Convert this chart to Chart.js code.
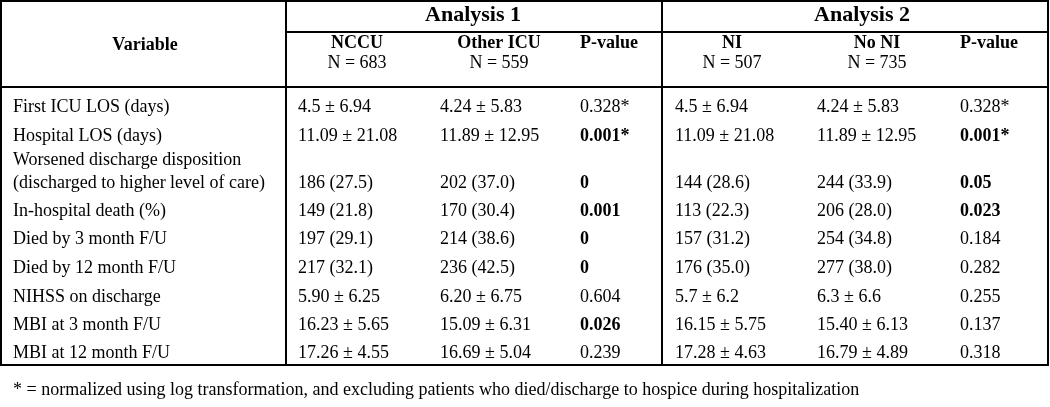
<!DOCTYPE html>
<html>
<head>
<meta charset="utf-8">
<script src="https://cdn.jsdelivr.net/npm/chart.js@4"></script>
<style>
  html, body { margin: 0; padding: 0; background: #fff; }
  canvas { display: block; }
</style>
</head>
<body>
<canvas id="table" width="1050" height="407"></canvas>
<script>
// ---- table data ----
const variables = [
  'First ICU LOS (days)',
  'Hospital LOS (days)',
  ['Worsened discharge disposition', '(discharged to higher level of care)'],
  'In-hospital death (%)',
  'Died by 3 month F/U',
  'Died by 12 month F/U',
  'NIHSS on discharge',
  'MBI at 3 month F/U',
  'MBI at 12 month F/U'
];
const analysisNames = ['Analysis 1', 'Analysis 2'];
const groupNames = ['NCCU', 'Other ICU', 'NI', 'No NI'];
const groupN = [683, 559, 507, 735];

const nccu = ['4.5 ± 6.94', '11.09 ± 21.08', '186 (27.5)', '149 (21.8)', '197 (29.1)', '217 (32.1)', '5.90 ± 6.25', '16.23 ± 5.65', '17.26 ± 4.55'];
const otherIcu = ['4.24 ± 5.83', '11.89 ± 12.95', '202 (37.0)', '170 (30.4)', '214 (38.6)', '236 (42.5)', '6.20 ± 6.75', '15.09 ± 6.31', '16.69 ± 5.04'];
const pValue1 = ['0.328*', '0.001*', '0', '0.001', '0', '0', '0.604', '0.026', '0.239'];
const pBold1 = [false, true, true, true, true, true, false, true, false];

const ni = ['4.5 ± 6.94', '11.09 ± 21.08', '144 (28.6)', '113 (22.3)', '157 (31.2)', '176 (35.0)', '5.7 ± 6.2', '16.15 ± 5.75', '17.28 ± 4.63'];
const noNi = ['4.24 ± 5.83', '11.89 ± 12.95', '244 (33.9)', '206 (28.0)', '254 (34.8)', '277 (38.0)', '6.3 ± 6.6', '15.40 ± 6.13', '16.79 ± 4.89'];
const pValue2 = ['0.328*', '0.001*', '0.05', '0.023', '0.184', '0.282', '0.255', '0.137', '0.318'];
const pBold2 = [false, true, true, true, false, false, false, false, false];

const footnote = '* = normalized using log transformation, and excluding patients who died/discharge to hospice during hospitalization';

// ---- layout (in reference pixel units, mapped through the chart scales) ----
const colX = [13, 298, 440, 580, 675, 817, 960];
const rowY = [107, 136, 183, 211, 239, 268, 297, 325, 353];
const wrapGap = 23;
const headX = [145, 357, 499, 609, 732, 877, 989];
const analysisX = [473, 862];
const grid = { left: 1, right: 1048, top: 1, mid: 32, head: 87, bottom: 365, split1: 286, split2: 662 };
const FONT = '"Liberation Serif", "Times New Roman", serif';
const INK = '#000';

const columns = [
  { texts: variables },
  { texts: nccu },
  { texts: otherIcu },
  { texts: pValue1, bold: pBold1 },
  { texts: ni },
  { texts: noNi },
  { texts: pValue2, bold: pBold2 }
];

const datasets = columns.map((col, c) => ({
  label: 'col' + c,
  texts: col.texts,
  bold: col.bold || [],
  data: col.texts.map((_, r) => ({ x: colX[c], y: rowY[r] })),
  pointRadius: 0,
  pointHoverRadius: 0
}));

// draws grid lines, headers and the cell texts at the points' positions
const tablePlugin = {
  id: 'tableText',
  afterDatasetsDraw(chart) {
    const ctx = chart.ctx;
    const xs = chart.scales.x;
    const ys = chart.scales.y;
    const X = v => xs.getPixelForValue(v);
    const Y = v => ys.getPixelForValue(v);

    ctx.save();
    ctx.fillStyle = INK;
    ctx.strokeStyle = INK;
    ctx.textBaseline = 'middle';

    // borders
    ctx.lineWidth = 2;
    ctx.strokeRect(X(grid.left), Y(grid.top), X(grid.right) - X(grid.left), Y(grid.bottom) - Y(grid.top));
    ctx.beginPath();
    ctx.moveTo(X(grid.split1), Y(grid.top)); ctx.lineTo(X(grid.split1), Y(grid.bottom));
    ctx.moveTo(X(grid.split2), Y(grid.top)); ctx.lineTo(X(grid.split2), Y(grid.bottom));
    ctx.moveTo(X(grid.split1), Y(grid.mid)); ctx.lineTo(X(grid.right), Y(grid.mid));
    ctx.moveTo(X(grid.left), Y(grid.head)); ctx.lineTo(X(grid.right), Y(grid.head));
    ctx.stroke();

    // headers
    ctx.textAlign = 'center';
    ctx.font = 'bold 22px ' + FONT;
    analysisNames.forEach((name, i) => ctx.fillText(name, X(analysisX[i]), Y(15)));
    ctx.font = 'bold 18px ' + FONT;
    ctx.fillText('Variable', X(headX[0]), Y(45));
    const groupCols = [1, 2, 4, 5];
    groupCols.forEach((c, i) => {
      ctx.font = 'bold 18px ' + FONT;
      ctx.fillText(groupNames[i], X(headX[c]), Y(43));
      ctx.font = '18px ' + FONT;
      ctx.fillText('N = ' + groupN[i], X(headX[c]), Y(63));
    });
    ctx.font = 'bold 18px ' + FONT;
    ctx.fillText('P-value', X(headX[3]), Y(43));
    ctx.fillText('P-value', X(headX[6]), Y(43));

    // cells
    ctx.textAlign = 'left';
    chart.data.datasets.forEach((ds, d) => {
      const meta = chart.getDatasetMeta(d);
      meta.data.forEach((pt, i) => {
        const t = ds.texts[i];
        ctx.font = (ds.bold[i] ? 'bold ' : '') + '18px ' + FONT;
        if (Array.isArray(t)) {
          ctx.fillText(t[0], pt.x, pt.y - wrapGap);
          ctx.fillText(t[1], pt.x, pt.y);
        } else {
          ctx.fillText(t, pt.x, pt.y);
        }
      });
    });

    // footnote
    ctx.font = '18px ' + FONT;
    ctx.fillText(footnote, X(colX[0]), Y(390));
    ctx.restore();
  }
};

new Chart(document.getElementById('table'), {
  type: 'scatter',
  data: { datasets },
  options: {
    responsive: false,
    animation: false,
    devicePixelRatio: 1,
    layout: { padding: 0 },
    events: [],
    plugins: { legend: { display: false }, tooltip: { enabled: false } },
    scales: {
      x: { type: 'linear', min: 0, max: 1050, display: false },
      y: { type: 'linear', min: 0, max: 407, reverse: true, display: false }
    }
  },
  plugins: [tablePlugin]
});
</script>
</body>
</html>
